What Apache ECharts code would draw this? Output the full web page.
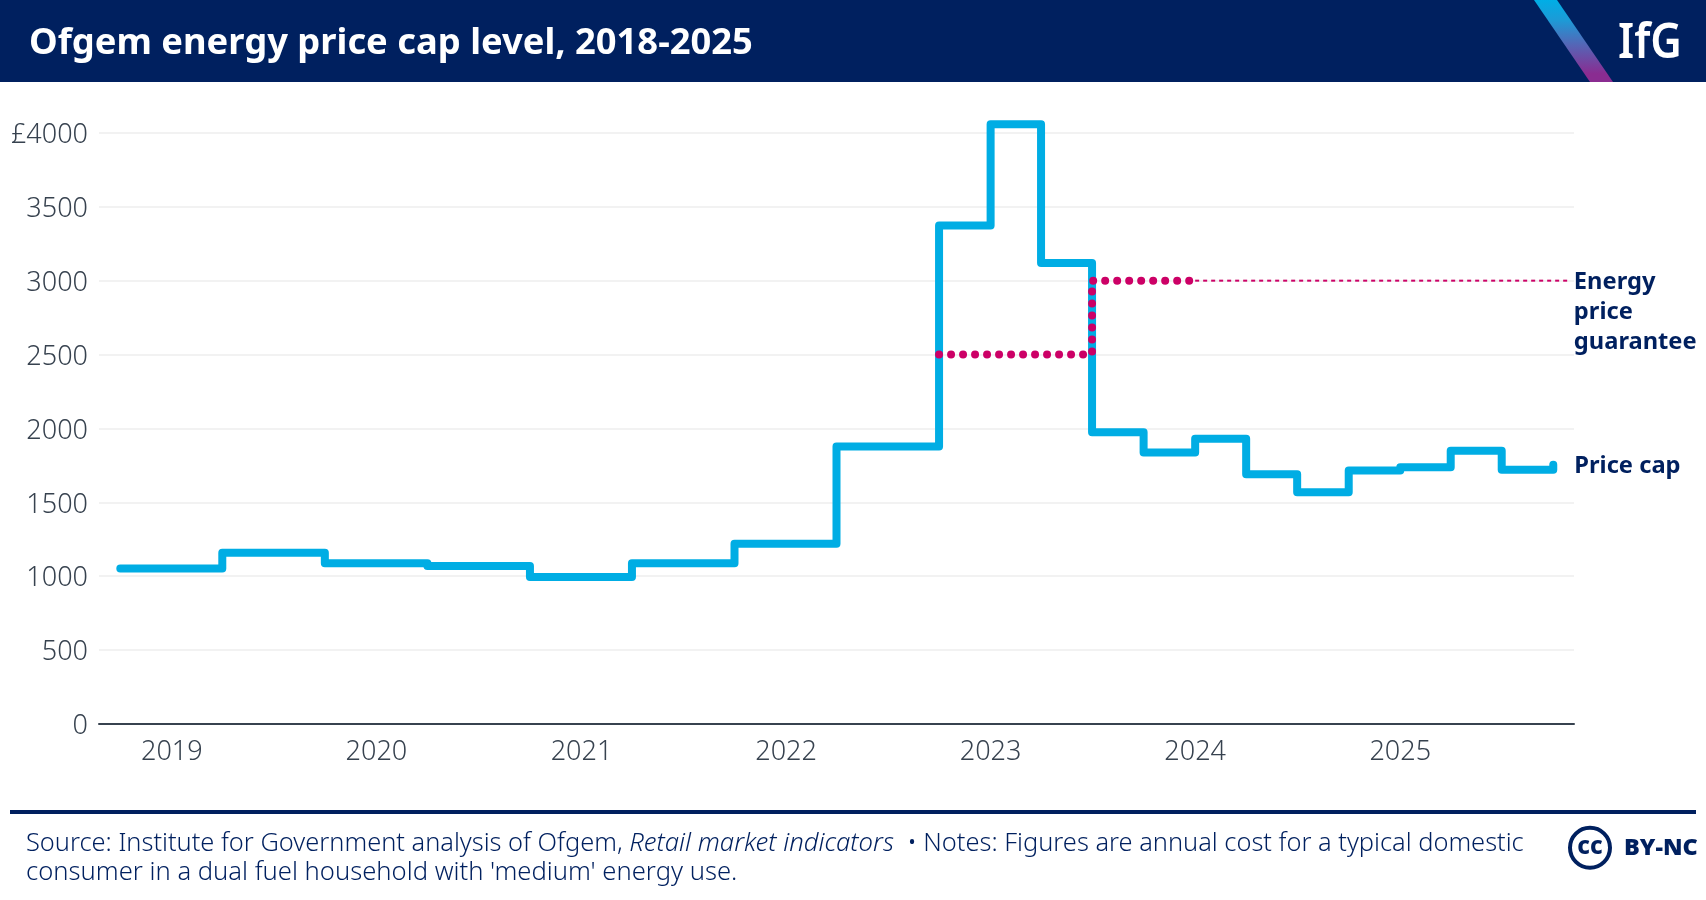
<!DOCTYPE html>
<html>
<head>
<meta charset="utf-8">
<script src="https://cdn.jsdelivr.net/npm/echarts@6/dist/echarts.min.js"></script>
<style>html,body{margin:0;padding:0;background:#fff}#c{width:1706px;height:900px}</style>
</head>
<body>
<div id="c"></div>
<script>
const capDates = ['2018-10-01','2019-04-01','2019-10-01','2020-04-01','2020-10-01','2021-04-01','2021-10-01','2022-04-01','2022-10-01','2023-01-01','2023-04-01','2023-07-01','2023-10-01','2024-01-01','2024-04-01','2024-07-01','2024-10-01','2025-01-01','2025-04-01','2025-07-01','2025-10-01'];
const capValues = [1052,1158,1088,1070,994,1087,1219,1878,3374,4059,3120,1974,1838,1930,1690,1569,1716,1738,1849,1720,1755];
const guaranteeDates = ['2022-10-01','2023-07-01','2024-01-01'];
const guaranteeValues = [2500,3000,3000];
const guaranteeTailDates = ['2024-01-01','2025-10-27'];
const guaranteeTailValues = [3000,3000];
const yearTicks = [2019,2020,2021,2022,2023,2024,2025];
const NAVY='#00205F', BLUE='#00ADE4', MAG='#CC0066', GREY='#37424F';
const FONT='"Noto Sans"';
const ms=s=>Date.parse(s+'T00:00:00Z');
const zip=(a,b)=>a.map((d,i)=>[ms(d),b[i]]);
const chart=echarts.init(document.getElementById('c'),null,{renderer:'canvas'});
chart.setOption({
 animation:false,
 title:{text:'Ofgem energy price cap level, 2018-2025',left:24,top:21,z:20,textStyle:{color:'#fff',fontFamily:FONT,fontWeight:700,fontSize:36.35}},
 grid:{left:99,right:132,top:59,bottom:176},
 xAxis:{type:'value',min:ms('2018-08-24'),max:ms('2025-11-07'),
  axisLine:{show:true,onZero:true,lineStyle:{color:GREY,width:2}},axisTick:{show:false},splitLine:{show:false},
  axisLabel:{customValues:yearTicks.map(y=>ms(y+'-01-01')),formatter:v=>String(new Date(v).getUTCFullYear()),color:GREY,fontFamily:FONT,fontWeight:300,fontSize:27,margin:15,hideOverlap:false}},
 yAxis:{type:'value',min:0,max:4500,interval:500,
  axisLine:{show:false},axisTick:{show:false},
  splitLine:{show:true,showMaxLine:false,lineStyle:{color:'#F2F2F2',width:2}},
  axisLabel:{showMaxLabel:false,formatter:v=>'{a|'+(v===4000?'£4000':v)+'}',margin:11,
   rich:{a:{color:GREY,fontFamily:FONT,fontWeight:300,fontSize:27,padding:[5,0,0,0]}}}},
 series:[
  {name:'Price cap',type:'line',step:'end',showSymbol:false,symbol:'none',data:zip(capDates,capValues),z:3,
   lineStyle:{color:BLUE,width:8,cap:'round',join:'round'},
   endLabel:{show:true,formatter:'Price cap',distance:21,offset:[0,2],color:NAVY,fontFamily:FONT,fontWeight:700,fontSize:23.7}},
  {name:'Energy price guarantee',type:'line',step:'end',showSymbol:false,symbol:'none',data:zip(guaranteeDates,guaranteeValues),z:4,
   lineStyle:{color:MAG,width:8,type:[0,12],cap:'round',join:'round'}},
  {name:'Guarantee level',type:'line',showSymbol:false,symbol:'none',data:zip(guaranteeTailDates,guaranteeTailValues),z:2,
   lineStyle:{color:MAG,width:2,type:[4,4]},
   endLabel:{show:true,formatter:'Energy\nprice\nguarantee',distance:6,offset:[0,32],lineHeight:30,color:NAVY,fontFamily:FONT,fontWeight:700,fontSize:23.7}}
 ],
 graphic:[
  {type:'rect',z:10,shape:{x:0,y:0,width:1706,height:82},style:{fill:NAVY}},
  {type:'polygon',z:11,shape:{points:[[1534,0],[1557,0],[1613,82],[1590,82]]},
   style:{fill:{type:'linear',x:0,y:0,x2:0,y2:1,colorStops:[{offset:0,color:'#00AEE6'},{offset:0.25,color:'#1D9AD6'},{offset:0.55,color:'#5565B6'},{offset:0.9,color:'#8A2C91'},{offset:1,color:'#8A2C91'}]}}},
  {type:'text',z:12,x:1618,y:44,scaleX:0.89,style:{text:'IfG',fill:'#fff',font:'600 49px "Noto Sans"',textVerticalAlign:'middle'}},
  {type:'rect',z:5,shape:{x:10,y:810,width:1686,height:4},style:{fill:NAVY}},
  {type:'text',z:5,x:26,y:844,style:{rich:{n:{font:'300 25.42px "Noto Sans"',fill:NAVY},i:{font:'italic 300 25.7px "Noto Sans"',fill:NAVY}},
    text:'{n|Source: Institute for Government analysis of Ofgem, }{i|Retail market indicators}{n|  • Notes: Figures are annual cost for a typical domestic}',textVerticalAlign:'middle'}},
  {type:'text',z:5,x:26,y:873,style:{text:"consumer in a dual fuel household with 'medium' energy use.",font:'300 25.6px "Noto Sans"',fill:NAVY,textVerticalAlign:'middle'}},
  {type:'circle',z:5,shape:{cx:1590,cy:847.7,r:20},style:{fill:'#fff',stroke:NAVY,lineWidth:4}},
  {type:'text',z:6,x:1590,y:847,style:{text:'cc',font:'800 24px "Noto Sans"',fill:NAVY,textAlign:'center',textVerticalAlign:'middle'}},
  {type:'text',z:5,x:1624,y:848,style:{text:'BY-NC',font:'900 23.5px "Noto Sans"',fill:NAVY,textVerticalAlign:'middle'}}
 ]
});
</script>
</body>
</html>
